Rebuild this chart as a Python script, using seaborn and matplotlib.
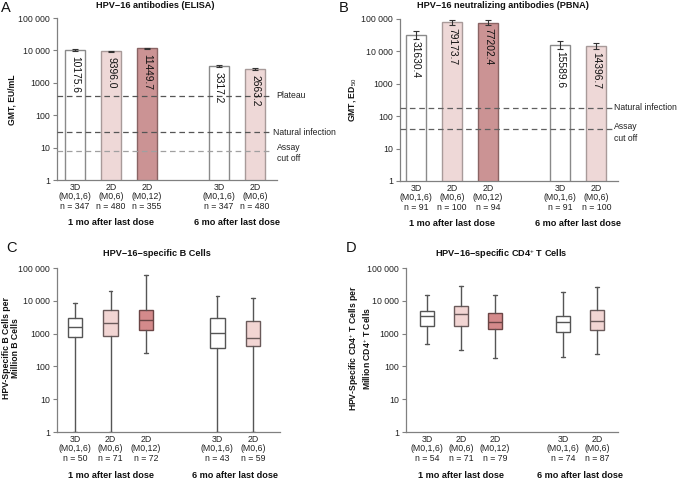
import numpy as np
import pandas as pd
import matplotlib
matplotlib.use("Agg")
import matplotlib.pyplot as plt
import matplotlib.transforms as mtransforms
from matplotlib.ticker import FixedLocator, NullLocator
import seaborn as sns

sns.set_theme(style="white")
plt.rcParams['font.family'] = ['Liberation Sans', 'DejaVu Sans']
plt.rcParams['mathtext.fontset'] = 'custom'
plt.rcParams['mathtext.rm'] = 'Liberation Sans'
plt.rcParams['mathtext.bf'] = 'Liberation Sans:bold'
plt.rcParams['mathtext.it'] = 'Liberation Sans:italic'

# ---------------- data ----------------
groups = ["1 mo after last dose", "6 mo after last dose"]
schedules = ["3D\n(M0,1,6)", "2D\n(M0,6)", "2D\n(M0,12)", "3D\n(M0,1,6)", "2D\n(M0,6)"]
schedule_keys = ["3D", "2D_M06", "2D_M012", "3D", "2D_M06"]

# A: ELISA
elisa_n = [347, 480, 355, 347, 480]
elisa_gmt = [10175.6, 9396.0, 11449.7, 3317.2, 2663.2]
elisa_lo = [9300, 8900, 10800, 3030, 2470]
elisa_hi = [11100, 9900, 12100, 3650, 2880]
elisa_ref_names = ["Plateau", "Natural infection", "Assay\ncut off"]
elisa_ref_values = [400, 29.8, 8]

# B: PBNA
pbna_n = [91, 100, 94, 91, 100]
pbna_gmt = [31630.4, 79173.7, 77202.4, 15589.6, 14396.7]
pbna_lo = [24100, 66000, 65000, 12200, 11800]
pbna_hi = [41500, 95000, 92000, 20300, 17900]
pbna_ref_names = ["Natural infection", "Assay\ncut off"]
pbna_ref_values = [180, 40]

# C: B cells (box stats)
bcell_n = [50, 71, 72, 43, 59]
bcell_min = [1, 1, 250, 1, 1]
bcell_q1 = [790, 850, 1325, 375, 430]
bcell_med = [1600, 2070, 2680, 1020, 760]
bcell_q3 = [2950, 5170, 5170, 2950, 2390]
bcell_max = [8480, 20200, 60000, 14200, 12400]

# D: CD4+ T cells (box stats)
tcell_n = [54, 71, 79, 74, 87]
tcell_min = [475, 310, 175, 200, 235]
tcell_q1 = [1760, 1760, 1420, 1120, 1325]
tcell_med = [3470, 3910, 2220, 2220, 2440]
tcell_q3 = [4940, 6870, 4190, 3400, 5170]
tcell_max = [15300, 28800, 15300, 18900, 26800]

ytick_vals = [1, 10, 100, 1000, 10000, 100000]
ytick_labels = ["1", "10", "100", "1000", "10 000", "100 000"]

# ---------------- style ----------------
palette = {"3D": "#ffffff", "2D_M06": "#f2d5d3", "2D_M012": "#d48a8b"}
edge_bar = {"3D": "#8a8a8a", "2D_M06": "#a89a99", "2D_M012": "#8a6464"}
edge_box = {"3D": "#555555", "2D_M06": "#6a5a5a", "2D_M012": "#6b4545"}
positions = [0, 1, 2, 4, 5]
W, H = 678, 480
spine_col = "#808080"
FS = 6.3

fig = plt.figure(figsize=(W / 100, H / 100), dpi=100)


def add_ax(x0, x1, y0, y1):
    return fig.add_axes([x0 / W, 1 - y1 / H, (x1 - x0) / W, (y1 - y0) / H])


def style_axis(ax, xlim, ns):
    ax.set_yscale("log")
    ax.set_ylim(1, 100000)
    ax.set_xlim(*xlim)
    ax.yaxis.set_major_locator(FixedLocator(ytick_vals))
    ax.yaxis.set_minor_locator(NullLocator())
    ax.set_yticklabels(ytick_labels)
    ax.set_xticks(positions)
    ax.set_xticklabels([f"{s}\nn = {n}" for s, n in zip(schedules, ns)])
    for lbl in ax.get_xticklabels():
        lbl.set_linespacing(1.1)
    ax.tick_params(axis="x", length=0, pad=2, labelsize=FS, colors="#222222")
    ax.tick_params(axis="y", length=3, width=0.8, color=spine_col, pad=2,
                   labelsize=FS, labelcolor="#222222", left=True)
    for s in ["top", "right"]:
        ax.spines[s].set_visible(False)
    for s in ["left", "bottom"]:
        ax.spines[s].set_color(spine_col)
        ax.spines[s].set_linewidth(0.9)
    ax.set_xlabel("")
    ax.set_ylabel("")
    tr = mtransforms.blended_transform_factory(ax.transData, ax.transAxes)
    ax.text(1, -0.265, groups[0], transform=tr, ha="center", va="center",
            fontsize=6.6, fontweight="bold", color="#111111")
    ax.text(4.5, -0.265, groups[1], transform=tr, ha="center", va="center",
            fontsize=6.6, fontweight="bold", color="#111111")


def bar_panel(ax, gmt, lo, hi, ns, xlim, ref_names, ref_values, ref_cols,
              ref_x, ref_label_x, ref_label_dy):
    df = pd.DataFrame({"pos": positions, "gmt": gmt, "sched": schedule_keys})
    sns.barplot(data=df, x="pos", y="gmt", hue="sched", palette=palette,
                native_scale=True, dodge=False, width=0.56, errorbar=None,
                legend=False, ax=ax, linewidth=1.0, edgecolor="#888888")
    for p in ax.patches:
        cx = p.get_x() + p.get_width() / 2
        i = int(np.argmin([abs(cx - q) for q in positions]))
        p.set_edgecolor(edge_bar[schedule_keys[i]])
        p.set_zorder(2)
    style_axis(ax, xlim, ns)
    g = np.array(gmt)
    ax.errorbar(positions, g, yerr=[g - np.array(lo), np.array(hi) - g],
                fmt="none", ecolor="#333333", elinewidth=0.8, capsize=2.2,
                capthick=0.8, zorder=4)
    for x, v in zip(positions, gmt):
        ax.text(x, v * 0.66, f"{v:.1f}", rotation=270, ha="center", va="top",
                fontsize=7.4, color="#111111", zorder=5)
    for name, val, col, lx, dy in zip(ref_names, ref_values, ref_cols,
                                      ref_label_x, ref_label_dy):
        ax.plot([xlim[0], ref_x], [val, val], ls=(0, (4.5, 3)), color=col,
                lw=0.9, zorder=3)
        ax.text(lx, val * dy, name, ha="left", va="center",
                fontsize=6.2, color="#222222", linespacing=1.35,
                clip_on=False)


def box_panel(ax, mins, q1, med, q3, maxs, ns, xlim):
    stats = [dict(whislo=a, q1=b, med=c, q3=d, whishi=e, fliers=[])
             for a, b, c, d, e in zip(mins, q1, med, q3, maxs)]
    bp = ax.bxp(stats, positions=positions, widths=0.41, patch_artist=True,
                showfliers=False, capwidths=0.1,
                boxprops=dict(linewidth=1.0),
                whiskerprops=dict(color="#555555", linewidth=1.0),
                capprops=dict(color="#555555", linewidth=1.0),
                medianprops=dict(color="#444444", linewidth=1.0))
    for i, b in enumerate(bp["boxes"]):
        k = schedule_keys[i]
        b.set_facecolor(palette[k])
        b.set_edgecolor(edge_box[k])
        bp["medians"][i].set_color(edge_box[k])
    style_axis(ax, xlim, ns)


# ---------------- Panel A ----------------
axA = add_ax(57, 277, 18, 180)
bar_panel(axA, elisa_gmt, elisa_lo, elisa_hi, elisa_n, (-0.5, 5.61),
          elisa_ref_names, elisa_ref_values, ["#555555", "#555555", "#a0a0a0"],
          5.42, [5.6, 5.5, 5.6], [1.0, 1.0, 0.85])
# ---------------- Panel B ----------------
axB = add_ax(400, 618, 19, 181)
bar_panel(axB, pbna_gmt, pbna_lo, pbna_hi, pbna_n, (-0.44, 5.6),
          pbna_ref_names, pbna_ref_values, ["#606060", "#606060"],
          5.42, [5.48, 5.48], [1.0, 0.78])
# ---------------- Panel C ----------------
axC = add_ax(57, 280, 268, 432)
box_panel(axC, bcell_min, bcell_q1, bcell_med, bcell_q3, bcell_max, bcell_n,
          (-0.506, 5.76))
# ---------------- Panel D ----------------
axD = add_ax(406, 618, 268, 432)
box_panel(axD, tcell_min, tcell_q1, tcell_med, tcell_q3, tcell_max, tcell_n,
          (-0.62, 5.62))


def ftext(x, y, s, **kw):
    fig.text(x / W, 1 - y / H, s, **kw)


# titles
tkw = dict(ha="center", va="center", fontsize=6.6, fontweight="bold", color="#111111")
ftext(155, 6, "HPV\u221216 antibodies (ELISA)", **tkw)
ftext(503, 6, "HPV\u221216 neutralizing antibodies (PBNA)", **tkw)
ftext(157, 254, "HPV\u221216\u2212specific B Cells", **tkw)
ftext(501, 254, "HPV\u221216\u2212specific CD4$^{+}$ T Cells", **tkw)

# panel letters
lkw = dict(ha="left", va="center", fontsize=10.5, color="#111111")
ftext(1, 8, "A", **lkw)
ftext(339, 8, "B", **lkw)
ftext(6, 248, "C", **lkw)
ftext(346, 248, "D", **lkw)

# y labels
ykw = dict(ha="center", va="center", rotation=90, fontsize=6.2,
           fontweight="bold", color="#111111", linespacing=1.1)
ftext(12, 100, "GMT, EU/mL", **ykw)
ftext(352, 100, "GMT, ED$_{50}$", **ykw)
ftext(11, 348, "HPV-Specific B Cells per\nMillion B Cells", **ykw)
ftext(360, 348, "HPV-Specific CD4$^{+}$ T Cells per\nMillion CD4$^{+}$ T Cells", **ykw)

fig.savefig("out.png", dpi=100, facecolor="white")
